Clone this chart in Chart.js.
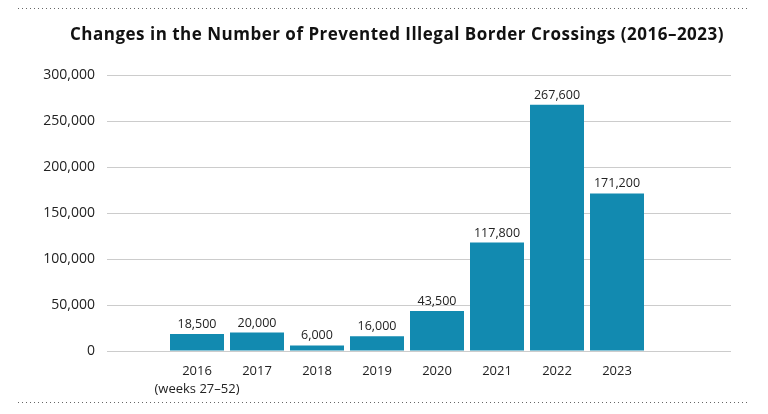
<!DOCTYPE html>
<html>
<head>
<meta charset="utf-8">
<script src="https://cdn.jsdelivr.net/npm/chart.js@4/dist/chart.umd.min.js"></script>
<style>
  html, body { margin: 0; padding: 0; background: #fff; }
  #wrap { width: 768px; height: 414px; position: relative; }
</style>
</head>
<body>
<div id="wrap"><canvas id="chart"></canvas></div>
<script>
// Prevented illegal border crossings per year.
const TITLE = "Changes in the Number of Prevented Illegal Border Crossings (2016\u20132023)";
const categories = [["2016", "(weeks 27\u201352)"], "2017", "2018", "2019", "2020", "2021", "2022", "2023"];
const crossings = [18500, 20000, 6000, 16000, 43500, 117800, 267600, 171200];
const yTicks = [0, 50000, 100000, 150000, 200000, 250000, 300000];

const FONT = "'Open Sans', 'Noto Sans', sans-serif";
const BAR = "#128ab0";
const fmt = (v) => v.toLocaleString("en-US");

// Title, dotted rules and value labels drawn on top of the chart.
const decorations = {
  id: "decorations",
  afterDraw(chart) {
    const { ctx } = chart;
    ctx.save();

    ctx.strokeStyle = "#666";
    ctx.lineWidth = 1;
    ctx.setLineDash([1, 3]);
    [8.5, 402.5].forEach((y) => {
      ctx.beginPath();
      ctx.moveTo(18, y);
      ctx.lineTo(748, y);
      ctx.stroke();
    });
    ctx.setLineDash([]);

    ctx.fillStyle = "#111";
    ctx.font = `bold 17px ${FONT}`;
    ctx.letterSpacing = "0.5px";
    ctx.textAlign = "center";
    ctx.textBaseline = "alphabetic";
    ctx.fillText(TITLE, 397, 40);
    ctx.letterSpacing = "0px";

    ctx.fillStyle = "#222";
    ctx.font = `12.5px ${FONT}`;
    chart.getDatasetMeta(0).data.forEach((bar, i) => {
      ctx.fillText(fmt(crossings[i]), bar.x, bar.y - 6);
    });
    ctx.restore();
  },
};

new Chart(document.getElementById("chart"), {
  type: "bar",
  data: {
    datasets: [
      {
        data: crossings.map((v, i) => ({ x: i, y: v })),
        backgroundColor: BAR,
        borderWidth: 0,
        barPercentage: 0.9,
        categoryPercentage: 1.0,
      },
    ],
  },
  options: {
    responsive: true,
    maintainAspectRatio: false,
    animation: false,
    layout: { padding: { top: 75, right: 37, left: 0, bottom: 0 } },
    plugins: { legend: { display: false }, tooltip: { enabled: false } },
    scales: {
      x: {
        type: "linear",
        offset: false,
        min: -1.5,
        max: 8.9,
        grid: { display: false },
        border: { display: false },
        afterBuildTicks: (scale) => {
          scale.ticks = categories.map((_, i) => ({ value: i }));
        },
        afterFit: (scale) => {
          scale.height = 63;
        },
        ticks: {
          autoSkip: false,
          maxRotation: 0,
          padding: 3,
          color: "#222",
          font: { family: FONT, size: 13, lineHeight: 1.4 },
          callback: (v) => categories[v] ?? "",
        },
      },
      y: {
        min: 0,
        max: 300000,
        afterBuildTicks: (scale) => {
          scale.ticks = yTicks.map((value) => ({ value }));
        },
        afterFit: (scale) => {
          scale.width = 107;
        },
        grid: { color: "#cccccc", lineWidth: 1, drawTicks: false },
        border: { display: false },
        ticks: {
          padding: 12,
          color: "#222",
          font: { family: FONT, size: 14 },
          callback: (v) => fmt(v),
        },
      },
    },
  },
  plugins: [decorations],
});
</script>
</body>
</html>
